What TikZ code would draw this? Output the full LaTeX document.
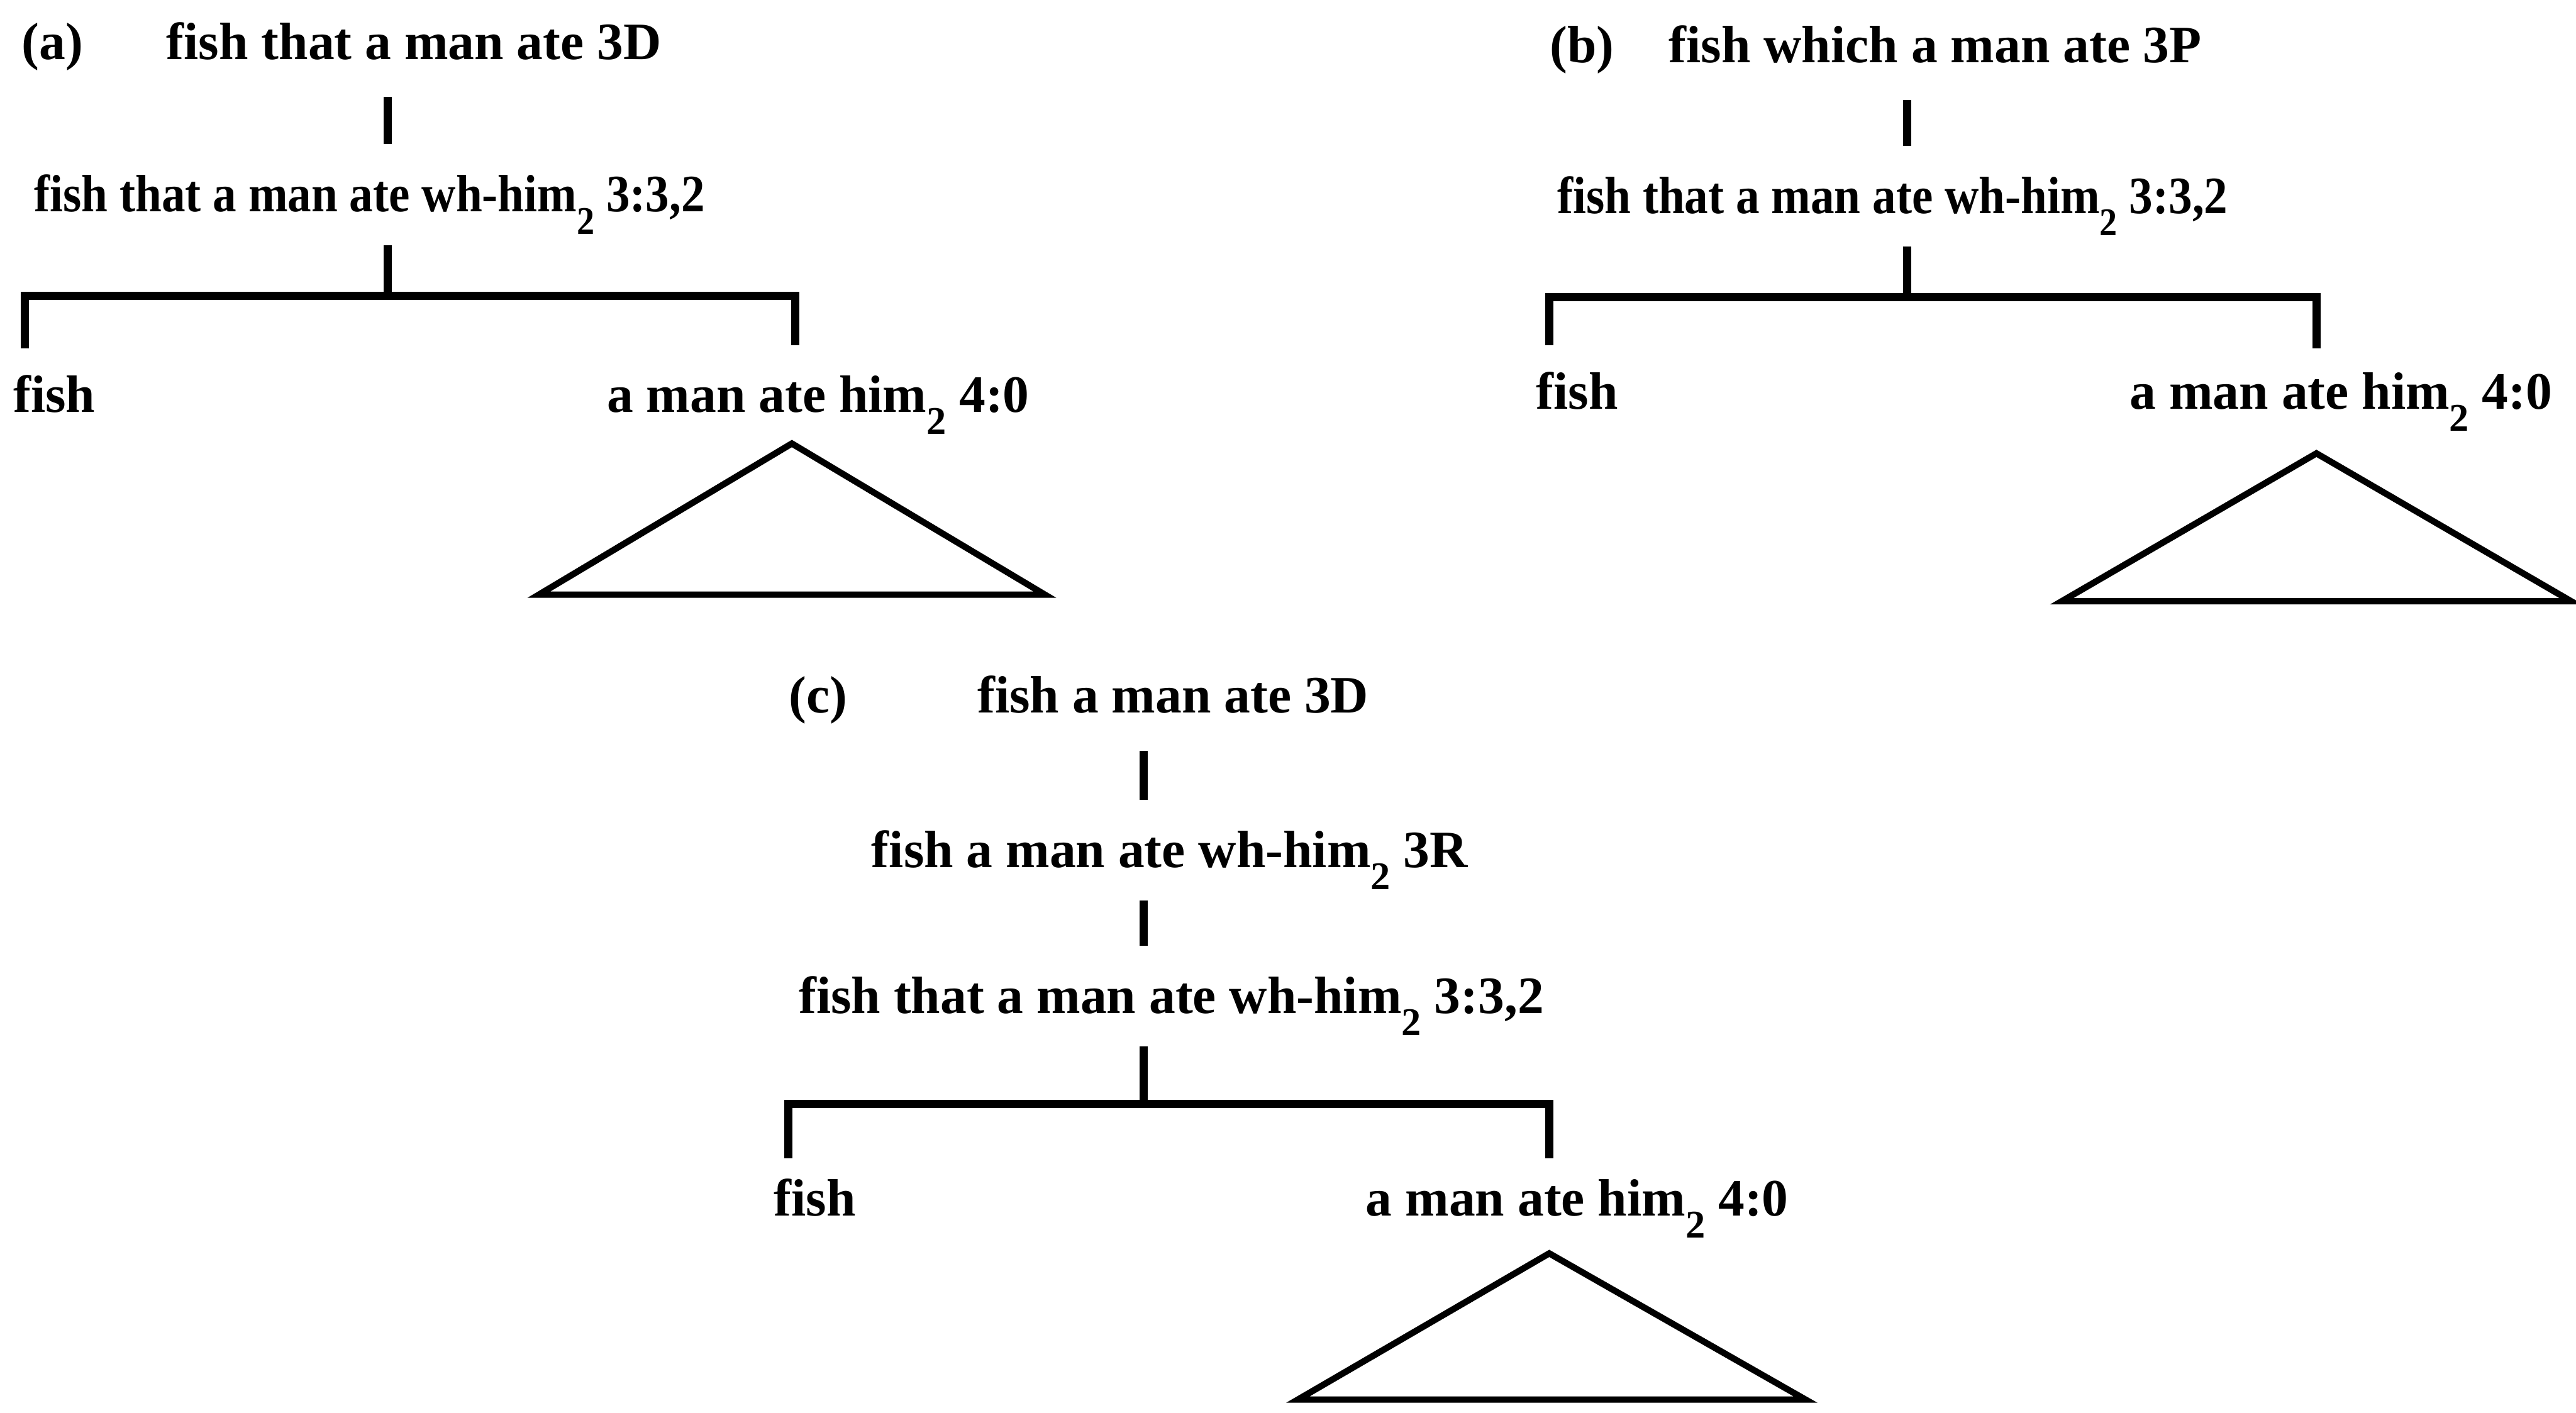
\documentclass[tikz,border=0pt]{standalone}
\usepackage{fontspec}
\setmainfont{Liberation Serif}
\usepackage{graphicx}
\usetikzlibrary{calc, positioning}

\newcommand{\subtwo}{\raisebox{-0.42em}{\fontsize{6.8}{7}\selectfont 2}}

\begin{document}
\begin{tikzpicture}[lbl/.style={anchor=base, inner sep=0.6mm, font=\fontsize{9.1}{11}\selectfont\bfseries},
  br/.style={line width=1.4pt},
  tk/.style={br, shorten <=1.6mm, shorten >=1.2mm},
  tri/.style={line width=1.1pt, line join=miter}]
\useasboundingbox (0,0) rectangle (15.68,-8.60);
% (a)
\node[lbl] (aTag) at (0.32,-0.36) {(a)};
\node[lbl] (a0) at (2.52,-0.36) {fish that a man ate 3D};
\node[lbl] (a1) at (2.25,-1.29) {\scalebox{0.9}[1]{fish that a man ate wh-him\subtwo{} 3:3,2}};
\node[lbl] (aL) at (0.33,-2.51) {fish};
\node[lbl] (aR) at (4.98,-2.51) {a man ate him\subtwo{} 4:0};
\coordinate (aJ) at (2.36,-1.80);
\coordinate (aLf) at (0.15,-2.12);
\coordinate (aRf) at (4.84,-2.10);
\draw[tk] (a0.south -| aJ) -- (a1.north -| aJ);
\draw[br] (a1.south -| aJ) -- (aJ);
\draw[br] (aLf) |- (aJ) -| (aRf);
\draw[tri] (4.82,-2.70) -- (6.36,-3.62) -- (3.28,-3.62) -- cycle;
% (b)
\node[lbl] (bTag) at (9.63,-0.38) {(b)};
\node[lbl] (b0) at (11.78,-0.38) {fish which a man ate 3P};
\node[lbl] (b1) at (11.52,-1.30) {\scalebox{0.9}[1]{fish that a man ate wh-him\subtwo{} 3:3,2}};
\node[lbl] (bL) at (9.60,-2.49) {fish};
\node[lbl] (bR) at (14.25,-2.49) {a man ate him\subtwo{} 4:0};
\coordinate (bJ) at (11.61,-1.81);
\coordinate (bLf) at (9.43,-2.10);
\coordinate (bRf) at (14.10,-2.12);
\draw[tk] (b0.south -| bJ) -- (b1.north -| bJ);
\draw[br] (b1.south -| bJ) -- (bJ);
\draw[br] (bLf) |- (bJ) -| (bRf);
\draw[tri] (14.10,-2.76) -- (15.65,-3.66) -- (12.55,-3.66) -- cycle;
% (c)
\node[lbl] (cTag) at (4.98,-4.34) {(c)};
\node[lbl] (c0) at (7.14,-4.34) {fish a man ate 3D};
\node[lbl] (c1) at (7.12,-5.28) {fish a man ate wh-him\subtwo{} 3R};
\node[lbl] (c2) at (7.13,-6.17) {fish that a man ate wh-him\subtwo{} 3:3,2};
\node[lbl] (cL) at (4.96,-7.40) {fish};
\node[lbl] (cR) at (9.60,-7.40) {a man ate him\subtwo{} 4:0};
\coordinate (cJ) at (6.96,-6.72);
\coordinate (cLf) at (4.80,-7.05);
\coordinate (cRf) at (9.43,-7.05);
\draw[tk] (c0.south -| cJ) -- (c1.north -| cJ);
\draw[br, shorten >=1.2mm] (c1.south -| cJ) -- (c2.north -| cJ);
\draw[br] (c2.south -| cJ) -- (cJ);
\draw[br] (cLf) |- (cJ) -| (cRf);
\draw[tri] (9.43,-7.63) -- (10.99,-8.52) -- (7.90,-8.52) -- cycle;
\end{tikzpicture}
\end{document}
